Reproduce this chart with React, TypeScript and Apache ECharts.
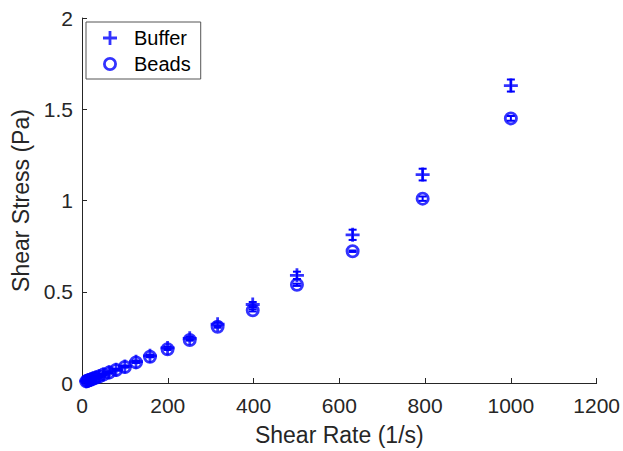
import React, { useEffect, useRef } from "react";
import * as echarts from "echarts";

const shearRate = [10, 12.6, 15.8, 20, 25.1, 31.6, 39.8, 50.1, 63.1, 79.4, 100, 125.9, 158.5, 199.5, 251.2, 316.2, 398.1, 501.2, 631, 794.3, 1000];
const bufferStress = [0.010, 0.012, 0.015, 0.019, 0.024, 0.030, 0.037, 0.047, 0.059, 0.073, 0.091, 0.117, 0.149, 0.192, 0.245, 0.322, 0.43, 0.59, 0.812, 1.142, 1.63];
const bufferErr = [0.002, 0.002, 0.002, 0.002, 0.003, 0.003, 0.003, 0.004, 0.004, 0.005, 0.005, 0.006, 0.006, 0.007, 0.008, 0.01, 0.014, 0.02, 0.028, 0.032, 0.033];
const beadsStress = [0.009, 0.012, 0.015, 0.018, 0.023, 0.029, 0.036, 0.046, 0.057, 0.071, 0.088, 0.113, 0.144, 0.185, 0.236, 0.308, 0.398, 0.538, 0.722, 1.01, 1.45];
const beadsErr = [0.001, 0.001, 0.001, 0.001, 0.001, 0.001, 0.002, 0.002, 0.002, 0.002, 0.003, 0.003, 0.003, 0.004, 0.004, 0.005, 0.006, 0.006, 0.004, 0.012, 0.013];
const xTicks = { min: 0, max: 1200, interval: 200 };
const yTicks = { min: 0, max: 2, interval: 0.5 };

const BLUE = "#0000ff";
const AXIS = "#262626";
const FONT = "Liberation Sans, Arial, Helvetica, sans-serif";
const PLUS = "path://M4,0H6V4H10V6H6V10H4V6H0V4H4Z";
const RING = "path://M7,0A7,7 0 1 1 7,14A7,7 0 1 1 7,0ZM7,2.8A4.2,4.2 0 1 0 7,11.2A4.2,4.2 0 1 0 7,2.8Z";

function errorSeries(x: number[], y: number[], e: number[]) {
  return {
    type: "custom",
    silent: true,
    data: x.map((v, i) => [v, y[i], e[i]]),
    encode: { x: 0, y: 1 },
    renderItem: (params: any, api: any) => {
      const xv = api.value(0);
      const yv = api.value(1);
      const ev = api.value(2);
      const top = api.coord([xv, yv + ev]);
      const bot = api.coord([xv, yv - ev]);
      const hw = 4;
      const style = { stroke: BLUE, lineWidth: 2, fill: "none" };
      return {
        type: "group",
        children: [
          { type: "line", shape: { x1: top[0], y1: top[1], x2: bot[0], y2: bot[1] }, style },
          { type: "line", shape: { x1: top[0] - hw, y1: top[1], x2: top[0] + hw, y2: top[1] }, style },
          { type: "line", shape: { x1: bot[0] - hw, y1: bot[1], x2: bot[0] + hw, y2: bot[1] }, style },
        ],
      };
    },
  };
}

export default function App() {
  const ref = useRef<HTMLDivElement>(null);
  useEffect(() => {
    if (!ref.current) return;
    const chart = echarts.init(ref.current, null, { renderer: "svg" });
    chart.setOption({
      animation: false,
      backgroundColor: "#fff",
      textStyle: { fontFamily: FONT },
      grid: { left: 82, top: 18, width: 517, height: 368, containLabel: false },
      xAxis: {
        type: "value",
        min: xTicks.min,
        max: xTicks.max,
        interval: xTicks.interval,
        name: "Shear Rate (1/s)",
        nameLocation: "middle",
        nameGap: 40,
        nameTextStyle: { fontSize: 23, color: AXIS, fontFamily: FONT },
        axisLine: { show: true, lineStyle: { color: AXIS, width: 1 } },
        axisTick: { show: true, inside: true, length: 5, lineStyle: { color: AXIS } },
        axisLabel: { fontSize: 21, color: AXIS, margin: 12, fontFamily: FONT, formatter: (v: number) => String(v) },
        splitLine: { show: false },
      },
      yAxis: {
        type: "value",
        min: yTicks.min,
        max: yTicks.max,
        interval: yTicks.interval,
        name: "Shear Stress (Pa)",
        nameLocation: "middle",
        nameGap: 48,
        nameTextStyle: { fontSize: 23, color: AXIS, fontFamily: FONT },
        axisLine: { show: true, lineStyle: { color: AXIS, width: 1 } },
        axisTick: { show: true, inside: true, length: 5, lineStyle: { color: AXIS } },
        axisLabel: { fontSize: 21, color: AXIS, margin: 9, fontFamily: FONT, formatter: (v: number) => String(v) },
        splitLine: { show: false },
      },
      legend: {
        data: [
          { name: "Buffer", icon: PLUS, itemStyle: { color: BLUE, borderWidth: 0 } },
          { name: "Beads", icon: RING, itemStyle: { color: BLUE, borderWidth: 0 } },
        ],
        orient: "vertical",
        left: 86,
        top: 22,
        padding: [6, 10, 5, 17],
        itemGap: 6,
        itemWidth: 14,
        itemHeight: 14,
        borderColor: "#555",
        borderWidth: 1,
        backgroundColor: "#fff",
        textStyle: { fontSize: 20, color: "#000", fontFamily: FONT, padding: [0, 0, 0, 12] },
      },
      series: [
        errorSeries(shearRate, bufferStress, bufferErr),
        errorSeries(shearRate, beadsStress, beadsErr),
        {
          name: "Buffer",
          type: "scatter",
          symbol: PLUS,
          symbolSize: 14,
          clip: false,
          data: shearRate.map((x, i) => [x, bufferStress[i]]),
          itemStyle: { color: BLUE, borderWidth: 0 },
        },
        {
          name: "Beads",
          type: "scatter",
          symbol: RING,
          symbolSize: 14,
          clip: false,
          data: shearRate.map((x, i) => [x, beadsStress[i]]),
          itemStyle: { color: BLUE, borderWidth: 0 },
        },
      ],
    });
    return () => chart.dispose();
  }, []);
  return (
    <div
      ref={ref}
      style={{ position: "fixed", left: 0, top: 0, width: 623, height: 451, background: "#fff" }}
    />
  );
}
